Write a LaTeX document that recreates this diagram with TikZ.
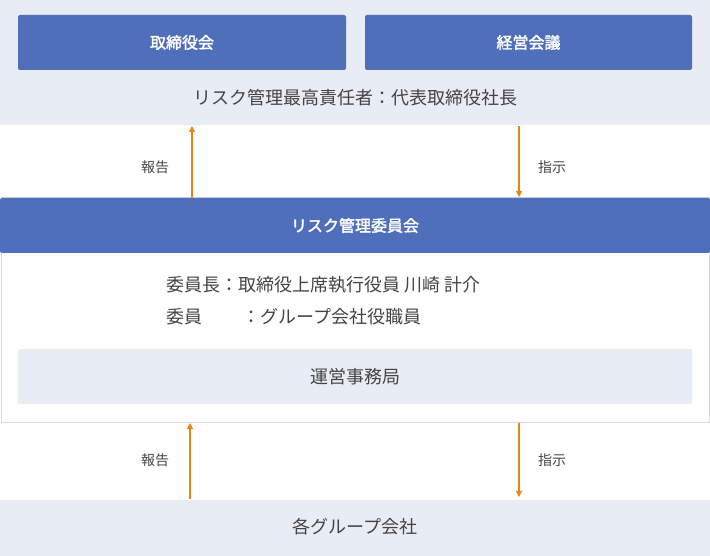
\documentclass[tikz,border=0pt]{standalone}
\usetikzlibrary{arrows.meta}
\usepackage{fontspec}
\setmainfont{Noto Sans CJK JP}[AutoFakeBold=2]
\definecolor{bandc}{HTML}{E8ECF4}
\definecolor{bluec}{HTML}{4F6FBA}
\definecolor{orc}{HTML}{E8860F}
\definecolor{txtc}{HTML}{444444}
\tikzset{
 bluebox/.style={fill=bluec,draw=none,rounded corners=2pt,text=white,font=\fontsize{16}{18}\selectfont\bfseries},
 arr/.style={draw=orc,line width=1.2pt,-{Triangle[length=6pt,width=6pt]}},
 lbl/.style={text=txtc,font=\fontsize{14}{16}\selectfont},
 main/.style={text=txtc,font=\fontsize{18}{22}\selectfont},
}
\begin{document}
\begin{tikzpicture}[x=1pt,y=-1pt]
\useasboundingbox (0,0) rectangle (710,556);
\fill[bandc] (0,0) rectangle (710,125);
\node[bluebox,minimum width=328pt,minimum height=55pt] (tor) at (182,42.5) {取締役会};
\node[bluebox,minimum width=327pt,minimum height=55pt] (kei) at (528.5,42.5) {経営会議};
\node[main] (cro) at (355,98) {リスク管理最高責任者：代表取締役社長};
\draw[draw=black!15,fill=white,line width=1pt] (1,198) rectangle (709,422);
\fill[bluec,rounded corners=2pt] (0,198) rectangle (710,253);
\node[text=white,font=\fontsize{16}{18}\selectfont\bfseries] (com) at (355,225.5) {リスク管理委員会};
\node[main,anchor=west] (l1) at (163,285) {委員長：取締役上席執行役員 川崎 計介};
\node[main,anchor=west] (l2) at (163,317) {委員\hspace{2.2em}：グループ会社役職員};
\fill[bandc,rounded corners=2pt] (18,349) rectangle (692,404);
\node[main] (jim) at (355,377) {運営事務局};
\fill[bandc] (0,500) rectangle (710,556);
\node[main] (grp) at (355,527) {各グループ会社};
\coordinate (a1s) at (192,198); \coordinate (a1e) at (192,126);
\coordinate (a2s) at (519,126); \coordinate (a2e) at (519,197);
\coordinate (a3s) at (190,499); \coordinate (a3e) at (190,423);
\coordinate (a4s) at (519,423); \coordinate (a4e) at (519,497);
\draw[arr] (a1s) -- (a1e);
\draw[arr] (a2s) -- (a2e);
\draw[arr] (a3s) -- (a3e);
\draw[arr] (a4s) -- (a4e);
\node[lbl] (r1) at (155,167) {報告};
\node[lbl] (s1) at (552,167) {指示};
\node[lbl] (r2) at (155,460) {報告};
\node[lbl] (s2) at (552,460) {指示};
\end{tikzpicture}
\end{document}
